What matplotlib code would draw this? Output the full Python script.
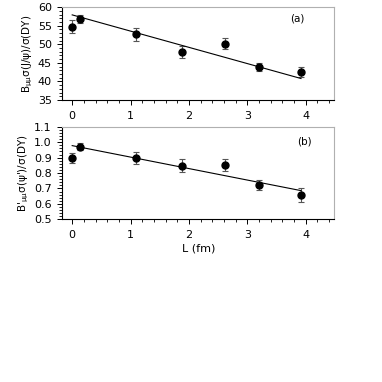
import matplotlib
matplotlib.use('Agg')
import matplotlib.pyplot as plt
from matplotlib.ticker import MultipleLocator

plt.rcParams['font.family'] = ['DejaVu Sans']
plt.rcParams['mathtext.default'] = 'regular'

# path length L (fm)
L = [0.0, 0.13, 1.10, 1.89, 2.61, 3.20, 3.92]

# (a) B_mumu sigma(J/psi)/sigma(DY)
jpsi = [54.7, 56.7, 52.7, 48.0, 50.2, 44.0, 42.6]
jpsi_err = [1.7, 1.1, 1.75, 1.6, 1.6, 1.1, 1.4]

# (b) B'_mumu sigma(psi')/sigma(DY)
psip = [0.896, 0.971, 0.898, 0.846, 0.851, 0.721, 0.656]
psip_err = [0.032, 0.022, 0.037, 0.042, 0.038, 0.032, 0.047]

# fitted lines (end points)
fit_L = [0.0, 3.92]
fit_a = [57.9, 40.8]
fit_b = [0.978, 0.686]

fig = plt.figure(figsize=(3.82, 3.82), dpi=100)
ax1 = fig.add_axes([0.163, 0.738, 0.712, 0.2435])
ax2 = fig.add_axes([0.163, 0.426, 0.712, 0.242])


def style(ax):
    ax.set_xlim(-0.17, 4.49)
    ax.xaxis.set_major_locator(MultipleLocator(1))
    ax.xaxis.set_minor_locator(MultipleLocator(0.2))
    ax.tick_params(axis='both', which='major', labelsize=8, length=3.5,
                   width=0.7, direction='out', pad=4)
    ax.tick_params(axis='both', which='minor', length=2, width=0.6,
                   direction='out')
    ax.spines['top'].set_color('#b0b0b0')
    ax.spines['right'].set_color('#b0b0b0')
    for s in ['left', 'bottom', 'top', 'right']:
        ax.spines[s].set_linewidth(0.8)


ax1.errorbar(L, jpsi, yerr=jpsi_err, fmt='o', color='black', ms=5,
             ecolor='#555555', elinewidth=0.8, capsize=2.5, capthick=0.8)
ax1.plot(fit_L, fit_a, color='black', lw=0.8)
ax1.set_ylim(35, 60)
ax1.yaxis.set_major_locator(MultipleLocator(5))
ax1.yaxis.set_minor_locator(MultipleLocator(1))
ax1.set_ylabel(r'B$_{\mu\mu}$σ(J/ψ)/σ(DY)', fontsize=7.5, labelpad=2)
ax1.text(0.866, 0.88, '(a)', transform=ax1.transAxes, fontsize=7.5,
         ha='center', va='center')
style(ax1)

ax2.errorbar(L, psip, yerr=psip_err, fmt='o', color='black', ms=5,
             ecolor='#555555', elinewidth=0.8, capsize=2.5, capthick=0.8)
ax2.plot(fit_L, fit_b, color='black', lw=0.8)
ax2.set_ylim(0.5, 1.1)
ax2.yaxis.set_major_locator(MultipleLocator(0.1))
ax2.yaxis.set_minor_locator(MultipleLocator(0.02))
ax2.yaxis.set_major_formatter(plt.FormatStrFormatter('%.1f'))
ax2.set_ylabel(r"B'$_{\mu\mu}$σ(ψ')/σ(DY)", fontsize=7.5, labelpad=2)
ax2.set_xlabel('L (fm)', fontsize=8, labelpad=3)
ax2.text(0.889, 0.837, '(b)', transform=ax2.transAxes, fontsize=7.5,
         ha='center', va='center')
style(ax2)

fig.savefig('out.png', dpi=100)
